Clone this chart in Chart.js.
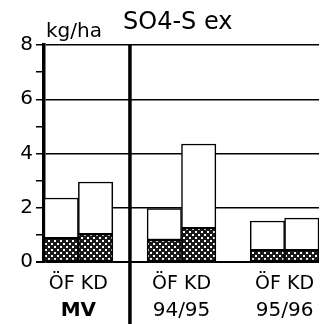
<!DOCTYPE html>
<html>
<head>
<meta charset="utf-8">
<script src="https://cdn.jsdelivr.net/npm/chart.js@4"></script>
<style>
    html, body { margin: 0; padding: 0; background: #fff; }
    canvas { display: block; }
</style>
</head>
<body>
<canvas id="so4Chart" width="320" height="324"></canvas>
<script>
// Data (kg/ha)
const groups = ['MV', '94/95', '95/96'];
const treatments = ['ÖF', 'KD'];
const pairLabel = 'ÖF KD';
const dottedPart = [0.88, 1.03, 0.81, 1.25, 0.44, 0.44];
const totalValue = [2.36, 2.95, 1.97, 4.35, 1.51, 1.62];
const yTicks = [0, 2, 4, 6, 8];

const FONT = 'DejaVu Sans';

// each group takes 3 slots on the x scale: ÖF, KD, gap
function slotOf(i) {
    const g = Math.floor(i / treatments.length);
    const t = i % treatments.length;
    return g * 3 + t + 0.5;
}

function makeDots() {
    const c = document.createElement('canvas');
    c.width = 6;
    c.height = 6;
    const g = c.getContext('2d');
    g.fillStyle = '#1a1a1a';
    g.fillRect(0, 0, 6, 6);
    g.fillStyle = '#fff';
    g.fillRect(0, 0, 2, 2);
    g.fillRect(3, 3, 2, 2);
    return g.createPattern(c, 'repeat');
}

function groupTicks(scale) {
    scale.ticks = groups.map((g, i) => ({ value: i * 3 + 1 }));
}

// divider line + header texts
const extras = {
    id: 'extras',
    afterDraw(chart) {
        const ctx = chart.ctx;
        const x = chart.scales.x.getPixelForValue(2.5);
        ctx.save();
        ctx.strokeStyle = '#000';
        ctx.lineWidth = 3.5;
        ctx.beginPath();
        ctx.moveTo(x, chart.chartArea.top);
        ctx.lineTo(x, chart.height);
        ctx.stroke();

        ctx.fillStyle = '#000';
        ctx.textBaseline = 'alphabetic';
        ctx.textAlign = 'left';
        ctx.font = '24px "' + FONT + '"';
        ctx.fillText('SO4-S ex', 123, 29);
        ctx.font = '20px "' + FONT + '"';
        ctx.fillText('kg/ha', chart.chartArea.left + 2, 37);
        ctx.restore();
    }
};

document.addEventListener('DOMContentLoaded', function() {
    const ctx = document.getElementById('so4Chart');
    const dots = makeDots();

    new Chart(ctx, {
        type: 'bar',
        data: {
            datasets: [{
                label: 'dotted',
                data: dottedPart.map((v, i) => ({ x: slotOf(i), y: v })),
                backgroundColor: dots,
                borderColor: '#000',
                borderWidth: 1.5
            }, {
                label: 'rest',
                data: totalValue.map((v, i) => ({ x: slotOf(i), y: [dottedPart[i], v] })),
                backgroundColor: '#fff',
                borderColor: '#000',
                borderWidth: 1.5
            }]
        },
        options: {
            responsive: false,
            animation: false,
            layout: { padding: { top: 45, right: 1, left: 0, bottom: 0 } },
            datasets: {
                bar: { grouped: false, categoryPercentage: 1, barPercentage: 1, borderSkipped: false }
            },
            plugins: {
                legend: { display: false },
                tooltip: { enabled: false }
            },
            scales: {
                x: {
                    type: 'linear',
                    offset: false,
                    min: 0,
                    max: 8,
                    afterBuildTicks: groupTicks,
                    afterFit: s => { s.height = 27; },
                    grid: { display: false },
                    border: { display: false },
                    ticks: {
                        autoSkip: false,
                        maxRotation: 0,
                        padding: 3,
                        color: '#000',
                        font: { family: FONT, size: 19 },
                        callback: () => pairLabel
                    }
                },
                x2: {
                    type: 'linear',
                    position: 'bottom',
                    offset: false,
                    min: 0,
                    max: 8,
                    afterBuildTicks: groupTicks,
                    afterFit: s => { s.height = 35; },
                    grid: { display: false },
                    border: { display: false },
                    ticks: {
                        autoSkip: false,
                        maxRotation: 0,
                        padding: 2,
                        color: '#000',
                        font: c => ({ family: FONT, size: 20, weight: c.index === 0 ? 'bold' : 'normal' }),
                        callback: (v, i) => groups[i]
                    }
                },
                y: {
                    min: 0,
                    max: 8,
                    afterFit: s => { s.width = 44; },
                    border: { display: true, color: '#000', width: 3.5 },
                    grid: {
                        color: c => (c.tick && c.tick.value % 2 === 0) ? '#000' : 'rgba(0,0,0,0)',
                        lineWidth: c => (c.tick && c.tick.value === 0) ? 2 : 1.5,
                        tickColor: '#000',
                        tickLength: 8
                    },
                    ticks: {
                        stepSize: 1,
                        padding: 3,
                        color: '#000',
                        font: { family: FONT, size: 20 },
                        callback: v => yTicks.includes(v) ? String(v) : ''
                    }
                }
            }
        },
        plugins: [extras]
    });
});
</script>
</body>
</html>
